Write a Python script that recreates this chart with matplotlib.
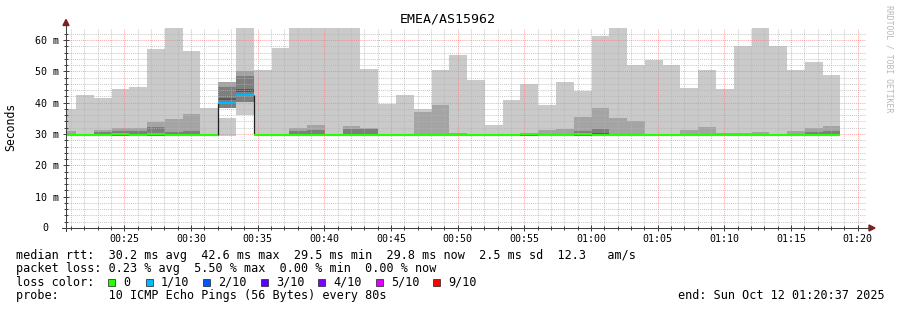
import numpy as np
import matplotlib
matplotlib.use("Agg")
import matplotlib.pyplot as plt
from matplotlib.patches import Polygon, Rectangle
from matplotlib.lines import Line2D
from matplotlib.ticker import FixedLocator, MultipleLocator

W, H = 897, 310

# mỗi ô đo 80 s, tính theo giây sau 00:20:00
step_s = 80
first_start_s = 2
view_start_s = 37

# đỉnh khói (ping lớn nhất), ms
smoke_max = [38.0, 42.4, 41.6, 44.4, 45.0, 57.1, 68.0, 56.5, 38.3, 46.6,
             68.0, 50.4, 57.6, 68.0, 68.0, 68.0, 68.0, 50.7, 39.7, 42.4,
             37.9, 50.4, 55.2, 47.2, 32.9, 40.9, 46.0, 39.3, 46.6, 43.8,
             61.3, 68.0, 52.0, 53.7, 52.0, 44.8, 50.4, 44.4, 58.1, 68.0,
             58.1, 50.4, 53.0, 48.8]
smoke_min = [29.4] * 44
# lớp khói thứ 2 và 3 (ping 9, ping 8)
smoke_p9 = [31.0, 29.7, 31.3, 32.0, 32.0, 33.9, 34.8, 36.4, 29.8, 46.6,
            50.1, 29.7, 29.7, 31.8, 32.9, 29.7, 32.6, 31.8, 29.7, 29.7,
            37.1, 39.3, 30.2, 29.7, 29.7, 29.8, 30.0, 31.3, 31.6, 35.4,
            38.3, 35.1, 34.2, 29.7, 29.7, 31.3, 32.2, 30.3, 30.3, 30.6,
            29.7, 31.0, 31.9, 32.6]
smoke_p8 = [29.8, 29.6, 30.5, 31.0, 31.0, 32.3, 30.5, 31.0, 29.6, 45.0,
            48.5, 29.6, 29.6, 31.0, 31.3, 29.6, 31.6, 31.6, 29.6, 29.6,
            29.7, 29.7, 29.7, 29.6, 29.6, 29.7, 29.8, 29.8, 29.8, 31.0,
            31.6, 30.0, 30.0, 29.6, 29.6, 29.8, 29.8, 29.7, 29.8, 29.8,
            29.6, 29.8, 30.6, 31.0]
mid_lo = [29.4] * 9 + [38.4, 40.3] + [29.4] * 33
# lớp lõi tối (chỉ thấy ở vài ô)
nan = np.nan
core_lo = [nan] * 9 + [40.9, 43.3] + [nan] * 19 + [29.5] + [nan] * 13
core_hi = [nan] * 9 + [41.6, 44.4] + [nan] * 19 + [30.3] + [nan] * 13
# khoảng trống trong khói khi mất gói
gap_lo = [nan] * 9 + [35.2, 29.4] + [nan] * 33
gap_hi = [nan] * 9 + [38.4, 36.1] + [nan] * 33

median = [29.6, 29.6, 29.6, 30.0, 29.7, 29.9, 29.7, 29.6, 29.6, 40.0,
          42.6, 29.6, 29.6, 29.7, 29.7, 29.6, 29.7, 29.7, 29.6, 29.6,
          29.6, 29.6, 29.6, 29.6, 29.6, 29.6, 30.0, 29.6, 29.6, 30.0,
          29.8, 29.7, 29.6, 29.6, 29.6, 29.8, 29.7, 29.6, 29.7, 29.8,
          29.7, 29.8, 29.8, 29.8]
loss = [0] * 9 + [1, 1] + [0] * 33

loss_labels = ["0", "1/10", "2/10", "3/10", "4/10", "5/10", "9/10"]
loss_colors = ["#26ff00", "#00b8ff", "#0059ff", "#5e00ff", "#7e00ff", "#dd00ff", "#ff0000"]

tick_minutes = [5, 10, 15, 20, 25, 30, 35, 40, 45, 50, 55, 60]
tick_labels = ["00:25", "00:30", "00:35", "00:40", "00:45", "00:50",
               "00:55", "01:00", "01:05", "01:10", "01:15", "01:20"]
y_ticks = [10, 20, 30, 40, 50, 60]
y_labels = ["10 m", "20 m", "30 m", "40 m", "50 m", "60 m"]

plt.rcParams['font.family'] = ['DejaVu Sans Mono']

fig = plt.figure(figsize=(W / 100, H / 100), dpi=100)
ax = fig.add_axes([66 / W, (H - 228) / H, 800 / W, 200 / H])

edges = (first_start_s + step_s * np.arange(len(median) + 1)) / 60.0


def band(lo, hi, color):
    lo = np.asarray(lo, float)
    hi = np.asarray(hi, float)
    ok = np.isfinite(lo) & np.isfinite(hi)
    if ok.all():
        ax.stairs(hi, edges, baseline=lo, fill=True, color=color, lw=0, zorder=1)
    else:
        ax.bar(edges[:-1][ok], (hi - lo)[ok], width=np.diff(edges)[ok], bottom=lo[ok],
               align='edge', color=color, linewidth=0, zorder=1)


band(smoke_min, smoke_max, "#cacaca")
band(gap_lo, gap_hi, "white")
band(mid_lo, smoke_p9, "#a4a4a4")
band(mid_lo, smoke_p8, "#7e7e7e")
band(core_lo, core_hi, "#585858")

# median: nét đứng đen khi đổi màu loss, đoạn ngang màu theo loss
for i in range(1, len(median)):
    if loss[i] != loss[i - 1]:
        ax.vlines(edges[i], min(median[i - 1], median[i]), max(median[i - 1], median[i]),
                  color="#202020", lw=0.9, zorder=3)
ax.hlines(median, edges[:-1], edges[1:], colors=[loss_colors[l] for l in loss],
          lw=1.5, zorder=4)

ax.set_xlim(view_start_s / 60, view_start_s / 60 + 60)
ax.set_ylim(0, 200 / 3.1333)

ax.xaxis.set_major_locator(FixedLocator(tick_minutes))
ax.xaxis.set_minor_locator(MultipleLocator(1))
ax.set_xticklabels(tick_labels)
ax.yaxis.set_major_locator(FixedLocator(y_ticks))
ax.yaxis.set_minor_locator(MultipleLocator(2))
ax.set_yticklabels(y_labels)

ax.set_axisbelow(False)
ax.grid(which='minor', color='#b4b4b4', lw=0.75, ls=(0, (1, 1)), alpha=0.7)
ax.grid(which='major', color='#ff7070', lw=0.75, ls=(0, (1, 1)), alpha=0.6)

for s in ax.spines.values():
    s.set_visible(False)
ax.tick_params(which='both', direction='inout', color='#404040', width=0.7,
               labelsize=7.2, labelcolor='black')
ax.tick_params(which='major', length=4, pad=2)
ax.tick_params(which='minor', length=3)
ax.tick_params(axis='y', which='major', pad=3)


def px(x, y):
    return (x / W, 1 - y / H)


# trục + mũi tên
fig.add_artist(Line2D([66 / W, 66 / W], [1 - 231 / H, 1 - 23 / H], color='#404040', lw=0.75))
fig.add_artist(Line2D([62 / W, 870 / W], [1 - 228 / H, 1 - 228 / H], color='#404040', lw=0.75))
fig.add_artist(Polygon([px(63, 25.5), px(69, 25.5), px(66, 19.5)], closed=True,
                       color='#8b1a1a', transform=fig.transFigure))
fig.add_artist(Polygon([px(869, 225), px(869, 231), px(875, 228)], closed=True,
                       color='#8b1a1a', transform=fig.transFigure))

fig.text(45 / W, 1 - 228 / H, "0", ha='center', va='center', fontsize=7.2)

fig.text(448 / W, 1 - 19 / H, "EMEA/AS15962", ha='center', va='center', fontsize=9.5)
fig.text(11 / W, 1 - 127 / H, "Seconds", ha='center', va='center', rotation=90, fontsize=8.3)
fig.text(889 / W, 1 - 59 / H, "RRDTOOL / TOBI OETIKER", ha='center', va='center',
         rotation=270, fontsize=5.9, color='#b8b8b8')

fs = 8.5
legend_lines = [
    (255, "median rtt:  30.2 ms avg  42.6 ms max  29.5 ms min  29.8 ms now  2.5 ms sd  12.3   am/s"),
    (268.5, "packet loss: 0.23 % avg  5.50 % max  0.00 % min  0.00 % now"),
    (295.5, "probe:       10 ICMP Echo Pings (56 Bytes) every 80s"),
]
for y, t in legend_lines:
    fig.text(16 / W, 1 - y / H, t, ha='left', va='center', fontsize=fs)
fig.text(678 / W, 1 - 295.5 / H, "end: Sun Oct 12 01:20:37 2025", ha='left', va='center', fontsize=fs)

fig.text(16 / W, 1 - 282 / H, "loss color:", ha='left', va='center', fontsize=fs)
box_x = [108.3, 146, 203.3, 261, 318.3, 375.7, 433.3]
for bx, lab, c in zip(box_x, loss_labels, loss_colors):
    fig.add_artist(Rectangle((bx / W, 1 - 285.7 / H), 7 / W, 7 / H, facecolor=c,
                             edgecolor='#202020', lw=0.5, transform=fig.transFigure))
    fig.text((bx + 15) / W, 1 - 282 / H, lab, ha='left', va='center', fontsize=fs)

fig.savefig("out.png", dpi=100)
